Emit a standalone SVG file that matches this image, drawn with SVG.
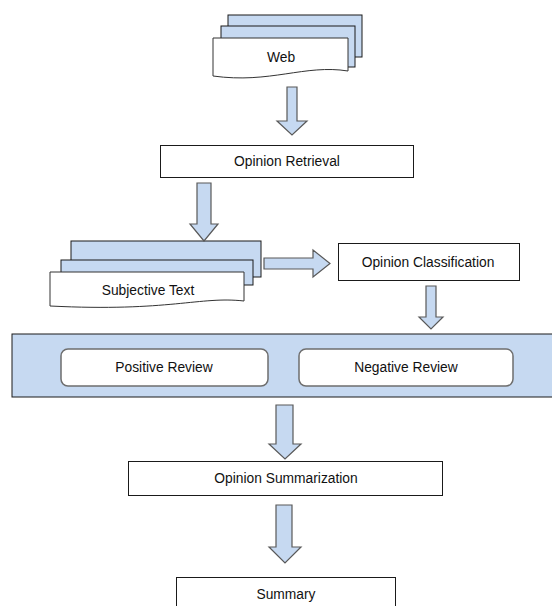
<svg xmlns="http://www.w3.org/2000/svg" width="552" height="606" viewBox="0 0 552 606">
<style>
text{font-family:"Liberation Sans",Arial,sans-serif;font-size:13.8px;fill:#111;text-anchor:middle}
.box{fill:#fff;stroke:#1a1a1a;stroke-width:1}
.sheet{fill:#c6d9f1;stroke:#1a1a1a;stroke-width:1}
.doc{fill:#fff;stroke:#333;stroke-width:1}
.arrow{fill:#c6d9f1;stroke:#595959;stroke-width:1.2}
.rr{fill:#fff;stroke:#6e6e6e;stroke-width:1.5}
</style>
<rect width="552" height="606" fill="#fff"/>
<g id="web">
<rect class="sheet" x="228" y="15" width="134" height="42"/>
<rect class="sheet" x="221" y="26" width="134" height="41"/>
<path class="doc" d="M213,38 H348 V71 C305,64 270,84 213,76 Z"/>
<text x="281" y="62">Web</text>
</g>
<g id="retrieval">
<rect class="box" x="160.5" y="145.5" width="253" height="32"/>
<text x="287" y="166">Opinion Retrieval</text>
</g>
<g id="subjective">
<rect class="sheet" x="71" y="241" width="190" height="36"/>
<rect class="sheet" x="61" y="260" width="192" height="25"/>
<path class="doc" d="M50,272 H244 V301 C200,296 170,312 50,306 Z"/>
<text x="148" y="295">Subjective Text</text>
</g>
<g id="classification">
<rect class="box" x="338.5" y="243.5" width="181" height="37"/>
<text x="428" y="267">Opinion Classification</text>
</g>
<g id="reviews">
<rect x="12" y="334" width="550" height="63" fill="#c6d9f1" stroke="#1a1a1a" stroke-width="1"/>
<g id="positive">
<rect class="rr" x="61" y="349" width="207" height="37" rx="7"/>
<text x="164" y="372">Positive Review</text>
</g>
<g id="negative">
<rect class="rr" x="299" y="349" width="214" height="37" rx="7"/>
<text x="406" y="372">Negative Review</text>
</g>
</g>
<g id="summarization">
<rect class="box" x="128.5" y="461.5" width="314" height="34"/>
<text x="286" y="483">Opinion Summarization</text>
</g>
<g id="summary">
<rect class="box" x="176.5" y="577.5" width="219" height="40"/>
<text x="286" y="599">Summary</text>
</g>
<g id="connectors">
<polygon class="arrow" points="287,87 297,87 297,121 307,121 292,135 277,121 287,121"/>
<polygon class="arrow" points="197,183 211,183 211,224 218,224 204,241 190,224 197,224"/>
<polygon class="arrow" points="264,258 313,258 313,250 330,263.5 313,277 313,269 264,269"/>
<polygon class="arrow" points="426,286 436,286 436,317 443,317 431,329 419,317 426,317"/>
<polygon class="arrow" points="276,405 293,405 293,444 301,444 285,459 269,444 276,444"/>
<polygon class="arrow" points="276,505 292,505 292,547 301,547 285,563 269,547 276,547"/>
</g>
</svg>
